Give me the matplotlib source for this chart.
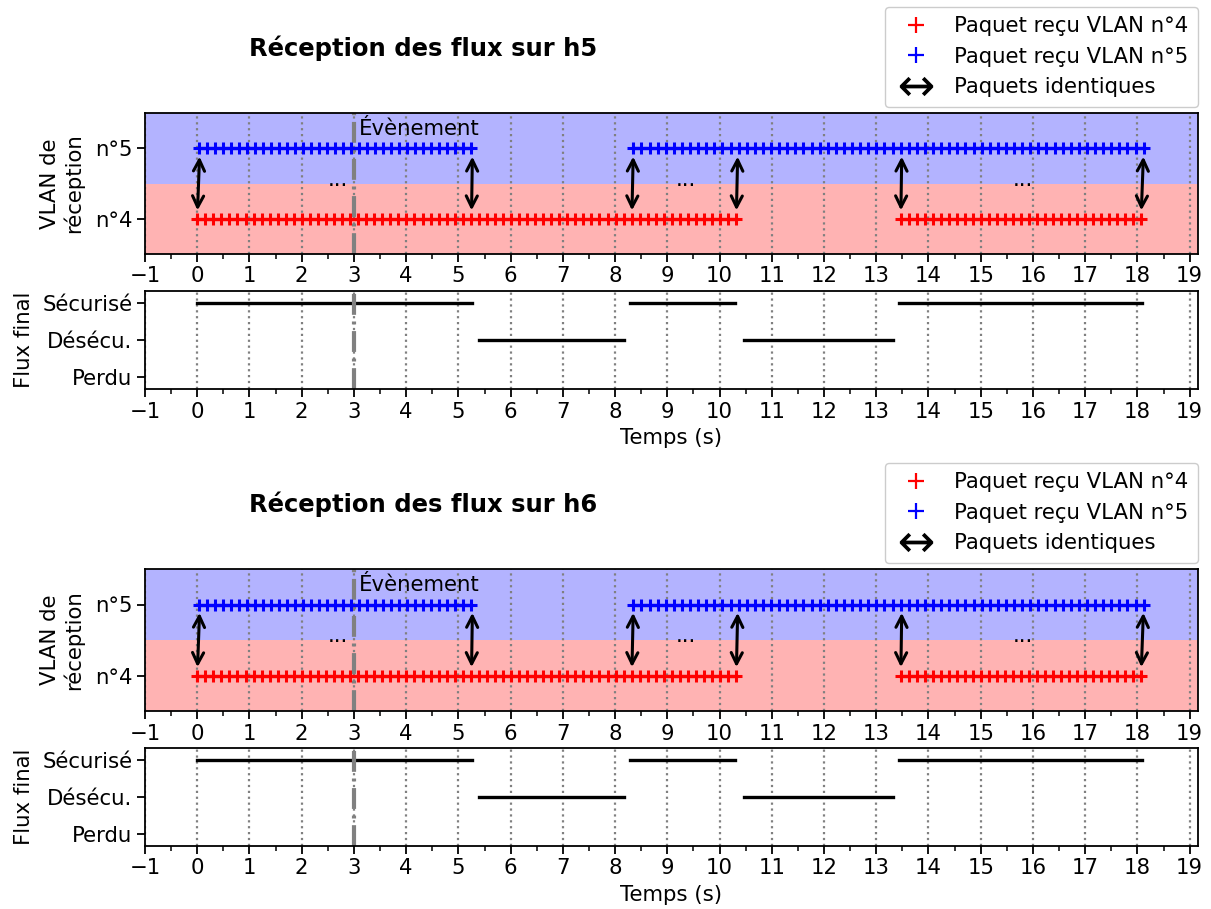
import numpy as np
import matplotlib
matplotlib.use("Agg")
import matplotlib.pyplot as plt
from matplotlib.lines import Line2D

# ---------------- data ----------------
hosts = ["h5", "h6"]
packet_step = 0.155
vlan5_segments = [(0.03, 5.25), (8.35, 18.12)]
vlan4_segments = [(0.0, 10.32), (13.47, 18.07)]
arrow_x_vlan5 = [0.05, 5.27, 8.35, 10.35, 13.49, 18.12]
arrow_x_vlan4 = [0.0, 5.25, 8.32, 10.32, 13.47, 18.07]
dots_x = [2.7, 9.35, 15.8]
event_time = 3.0
secure_segments = [(0.0, 5.27), (8.29, 10.3), (13.43, 18.08)]
unsecure_segments = [(5.4, 8.18), (10.47, 13.33)]
state_labels = ["Perdu", "Désécu.", "Sécurisé"]
vlan_labels = ["n°4", "n°5"]
xticks = list(range(-1, 20))

FS = 15.3
plt.rcParams['font.family'] = ['DejaVu Sans']
plt.rcParams['font.size'] = FS

fig = plt.figure(figsize=(12.11, 9.09), dpi=100)
W, H = 1211, 909

def px_axes(x0, y0, x1, y1):
    return fig.add_axes([x0 / W, 1 - y1 / H, (x1 - x0) / W, (y1 - y0) / H])

layouts = [
    dict(top=(113, 254), bot=(291, 389), title_y=48),
    dict(top=(569, 711), bot=(748, 846), title_y=504),
]

def packets(seg):
    s, e = seg
    n = int(round((e - s) / packet_step)) + 1
    return np.linspace(s, e, n)

EVENT_LS = (0, (5.0, 1.6, 0.7, 1.6))

for host, lay in zip(hosts, layouts):
    ax1 = px_axes(145, lay['top'][0], 1198, lay['top'][1])
    ax2 = px_axes(145, lay['bot'][0], 1198, lay['bot'][1])

    # ---- top panel ----
    ax1.axhspan(4.5, 5.5, color=(0.7, 0.7, 1.0), lw=0, zorder=0)
    ax1.axhspan(3.5, 4.5, color=(1.0, 0.7, 0.7), lw=0, zorder=0)
    for seg in vlan4_segments:
        t = packets(seg)
        ax1.plot(t, np.full_like(t, 4), color='red', marker='+', ms=9, mew=2.2, lw=2.4, zorder=3)
    for seg in vlan5_segments:
        t = packets(seg)
        ax1.plot(t, np.full_like(t, 5), color='blue', marker='+', ms=9, mew=2.2, lw=2.4, zorder=3)
    for xb, xr in zip(arrow_x_vlan5, arrow_x_vlan4):
        ax1.annotate('', xy=(xr, 4), xytext=(xb, 5),
                     arrowprops=dict(arrowstyle='<->', color='black', lw=2.2,
                                     shrinkA=6, shrinkB=6, mutation_scale=20),
                     zorder=4)
    for dx in dots_x:
        ax1.text(dx, 4.55, '...', ha='center', va='center', fontsize=FS)
    ax1.axvline(event_time, color='gray', lw=3.0, ls=EVENT_LS, zorder=2)
    ax1.text(event_time + 0.1, 5.27, 'Évènement', ha='left', va='center', fontsize=FS)
    ax1.set_ylim(3.5, 5.5)
    ax1.set_yticks([4, 5])
    ax1.set_yticklabels(vlan_labels)
    ax1.set_ylabel('VLAN de\nréception', fontsize=FS, labelpad=8, linespacing=1.15)

    # ---- bottom panel ----
    for s, e in secure_segments:
        ax2.plot([s, e], [2, 2], color='black', lw=2.4)
    for s, e in unsecure_segments:
        ax2.plot([s, e], [1, 1], color='black', lw=2.4)
    ax2.axvline(event_time, color='gray', lw=3.0, ls=EVENT_LS, zorder=2)
    ax2.set_ylim(-0.32, 2.32)
    ax2.set_yticks([0, 1, 2])
    ax2.set_yticklabels(state_labels)
    ax2.set_ylabel('Flux final', fontsize=FS, labelpad=6)
    ax2.set_xlabel('Temps (s)', fontsize=FS, labelpad=5)

    for ax in (ax1, ax2):
        ax.set_xlim(-1, 19.16)
        ax.set_xticks(xticks)
        ax.set_xticks(np.arange(-0.5, 19.0, 1.0), minor=True)
        ax.grid(axis='x', which='major', color='gray', ls=':', lw=1.6)
        ax.tick_params(axis='both', which='major', length=6, width=1.3, labelsize=FS, pad=3)
        ax.tick_params(axis='x', which='minor', length=3.5, width=1.1)
        for sp in ax.spines.values():
            sp.set_linewidth(1.3)

    handles = [
        Line2D([], [], color='red', marker='+', ls='none', ms=11, mew=1.6),
        Line2D([], [], color='blue', marker='+', ls='none', ms=11, mew=1.6),
        Line2D([], [], color='black', marker='$↔$', ls='none', ms=24, mew=0),
    ]
    labels = ['Paquet reçu VLAN n°4', 'Paquet reçu VLAN n°5', 'Paquets identiques']
    ax1.legend(handles, labels, loc='lower right', bbox_to_anchor=(1.0, 1.043),
               borderaxespad=0, fontsize=FS, framealpha=1, edgecolor='#cccccc',
               handletextpad=0.8, labelspacing=0.5, borderpad=0.45)

    fig.text(423 / W, 1 - lay['title_y'] / H, f'Réception des flux sur {host}',
             ha='center', va='center', fontsize=17.5, fontweight='bold')

fig.savefig('out.png', dpi=100)
